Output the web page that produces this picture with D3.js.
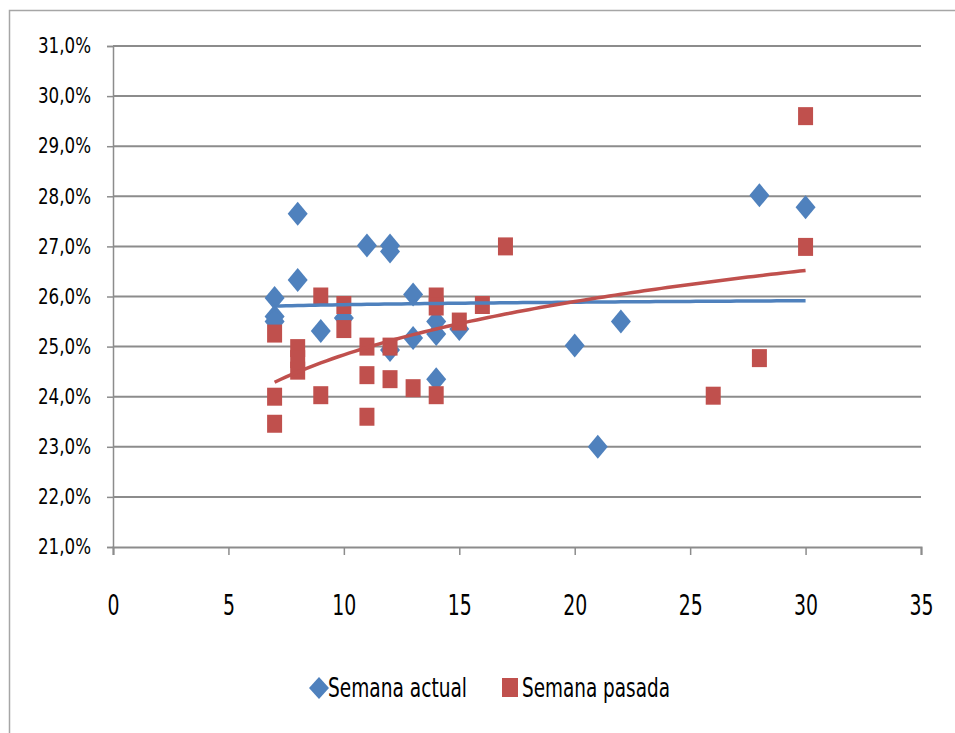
<!DOCTYPE html>
<html>
<head>
<meta charset="utf-8">
<script src="https://cdn.jsdelivr.net/npm/d3@7/dist/d3.min.js"></script>
<style>
  body { margin: 0; background: #fff; }
  svg text { font-family: "DejaVu Sans Condensed", "Liberation Sans Narrow", sans-serif; fill: #000; }
</style>
</head>
<body>
<div id="container"></div>
<script>
// Semana actual (x = dia, y = %)
var actualX = [7, 7, 7, 8, 8, 9, 10, 11, 12, 12, 12, 13, 13, 14, 14, 14, 15, 20, 21, 22, 28, 30]
var actualY = [25.97, 25.6, 25.5, 27.65, 26.33, 25.31, 25.57, 27.02, 27.02, 26.9, 24.93, 26.04, 25.17, 25.5, 25.25, 24.35, 25.35, 25.02, 23.0, 25.5, 28.02, 27.78]

// Semana pasada
var pasadaX = [7, 7, 7, 8, 8, 8, 9, 9, 10, 10, 11, 11, 11, 12, 12, 13, 14, 14, 14, 15, 16, 17, 26, 28, 30, 30]
var pasadaY = [25.26, 24.0, 23.46, 24.97, 24.75, 24.52, 26.0, 24.03, 25.83, 25.35, 25.0, 24.43, 23.6, 25.0, 24.35, 24.17, 26.0, 25.8, 24.03, 25.5, 25.83, 27.0, 24.02, 24.77, 29.6, 26.99]

var xTicks = [0, 5, 10, 15, 20, 25, 30, 35]
var yTicks = [21, 22, 23, 24, 25, 26, 27, 28, 29, 30, 31]
var seriesNames = ['Semana actual', 'Semana pasada']
var colors = ['#4F81BD', '#C0504D']

var W = 955, H = 733
var margin = {left: 113, right: 34, top: 46, bottom: 186}

var svg = d3.select('#container').append('svg').attr('width', W).attr('height', H)

// chart frame
svg.append('path')
	.attr('d', 'M9.5,' + H + 'V10.5H' + W)
	.attr('fill', 'none').attr('stroke', '#a6a6a6').attr('stroke-width', 1.5)

var x = d3.scaleLinear().domain([0, 35]).range([margin.left, W - margin.right])
var y = d3.scaleLinear().domain([21, 31]).range([H - margin.bottom, margin.top])

// narrow text like the original condensed face
var squeeze = function(sel, perChar) {
	sel.each(function() {
		var n = this.textContent.length
		d3.select(this).attr('textLength', n * perChar).attr('lengthAdjust', 'spacingAndGlyphs')
	})
}

// gridlines
svg.append('g').selectAll('line').data(yTicks.slice(1)).enter().append('line')
	.attr('x1', x(0)).attr('x2', x(35))
	.attr('y1', function(d) { return y(d) }).attr('y2', function(d) { return y(d) })
	.attr('stroke', '#8c8c8c').attr('stroke-width', 2)

// y axis
var yAxis = svg.append('g').attr('transform', 'translate(' + x(0) + ',0)')
	.call(d3.axisLeft(y).tickValues(yTicks).tickSize(6).tickPadding(16)
		.tickFormat(function(d) { return d3.format('.1f')(d).replace('.', ',') + '%' }))
yAxis.select('.domain').attr('stroke', '#8c8c8c').attr('stroke-width', 1.5)
yAxis.selectAll('.tick line').attr('stroke', '#8c8c8c').attr('stroke-width', 1.5)
yAxis.selectAll('text').style('font-size', '21px').call(squeeze, 10.6)

// x axis
var xAxis = svg.append('g').attr('transform', 'translate(0,' + y(21) + ')')
	.call(d3.axisBottom(x).tickValues(xTicks).tickSize(8).tickPadding(39))
xAxis.select('.domain').attr('stroke', '#8c8c8c').attr('stroke-width', 2)
xAxis.selectAll('.tick line').attr('stroke', '#8c8c8c').attr('stroke-width', 1.5)
xAxis.selectAll('text').style('font-size', '29px').call(squeeze, 12)

var diamond = 'M0,-12L10,0L0,12L-10,0Z'
var square = 'M-7.5,-9H7.5V9H-7.5Z'

// markers
svg.append('g').selectAll('path').data(actualX).enter().append('path')
	.attr('d', diamond).attr('fill', colors[0])
	.attr('transform', function(d, i) { return 'translate(' + x(d) + ',' + y(actualY[i]) + ')' })

svg.append('g').selectAll('path').data(pasadaX).enter().append('path')
	.attr('d', square).attr('fill', colors[1])
	.attr('transform', function(d, i) { return 'translate(' + x(d) + ',' + y(pasadaY[i]) + ')' })

// logarithmic trendlines  y = a + b ln(x)
var logFit = function(xs, ys) {
	var n = xs.length, sl = 0, sy = 0, sll = 0, sly = 0
	for (var i = 0; i < n; i++) {
		var l = Math.log(xs[i])
		sl += l; sy += ys[i]; sll += l * l; sly += l * ys[i]
	}
	var b = (n * sly - sl * sy) / (n * sll - sl * sl)
	var a = (sy - b * sl) / n
	return function(v) { return a + b * Math.log(v) }
}

var trend = function(xs, ys, color) {
	var f = logFit(xs, ys)
	var lo = d3.min(xs), hi = d3.max(xs)
	var pts = d3.range(lo, hi + 0.001, 0.25)
	svg.append('path')
		.datum(pts)
		.attr('fill', 'none').attr('stroke', color).attr('stroke-width', 3.5)
		.attr('d', d3.line().x(function(d) { return x(d) }).y(function(d) { return y(f(d)) }))
}
trend(actualX, actualY, colors[0])
trend(pasadaX, pasadaY, colors[1])

// legend
var legend = svg.append('g').attr('transform', 'translate(0,688)')
legend.append('path').attr('d', 'M0,-11L10,0L0,11L-10,0Z').attr('fill', colors[0])
	.attr('transform', 'translate(319,0)')
legend.append('text').attr('x', 328).attr('y', 9).style('font-size', '27px')
	.attr('textLength', 139).attr('lengthAdjust', 'spacingAndGlyphs').text(seriesNames[0])
legend.append('rect').attr('x', 502).attr('y', -10).attr('width', 16).attr('height', 19).attr('fill', colors[1])
legend.append('text').attr('x', 522).attr('y', 9).style('font-size', '27px')
	.attr('textLength', 148).attr('lengthAdjust', 'spacingAndGlyphs').text(seriesNames[1])
</script>
</body>
</html>
